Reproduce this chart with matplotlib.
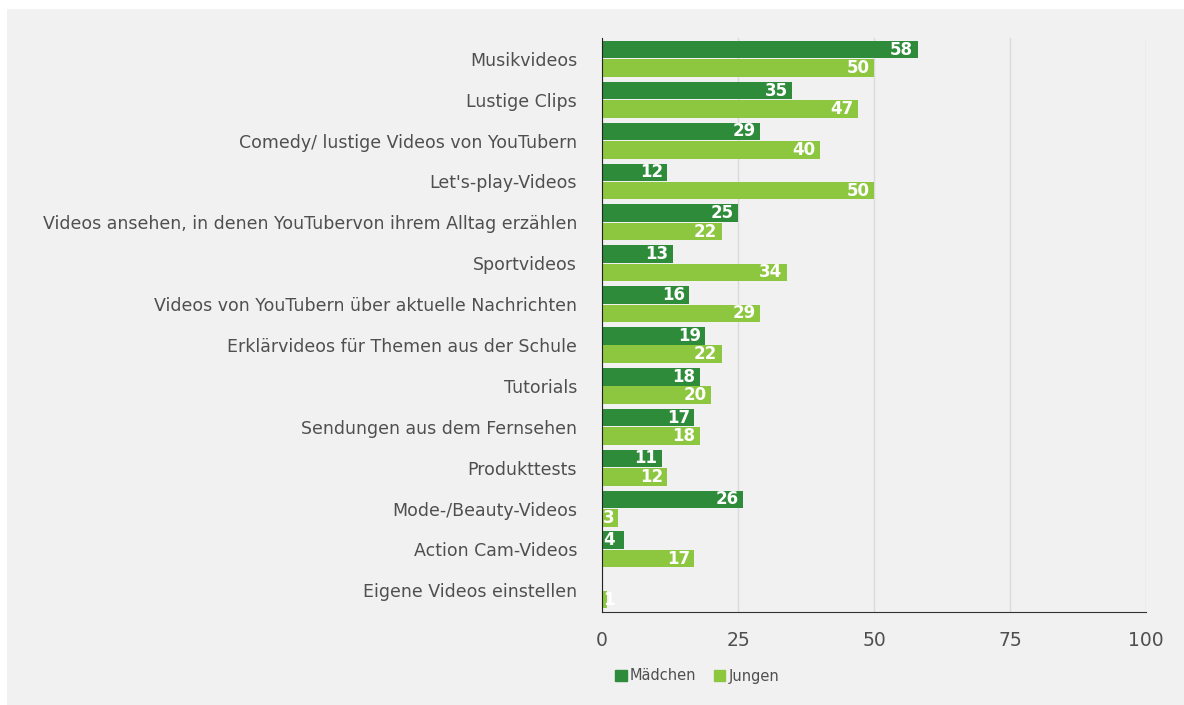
import matplotlib.pyplot as plt
import matplotlib.patches as mpatches
import numpy as np

plt.rcParams['font.family'] = ['DejaVu Sans']

categories = [
    "Musikvideos",
    "Lustige Clips",
    "Comedy/ lustige Videos von YouTubern",
    "Let's-play-Videos",
    "Videos ansehen, in denen YouTubervon ihrem Alltag erzählen",
    "Sportvideos",
    "Videos von YouTubern über aktuelle Nachrichten",
    "Erklärvideos für Themen aus der Schule",
    "Tutorials",
    "Sendungen aus dem Fernsehen",
    "Produkttests",
    "Mode-/Beauty-Videos",
    "Action Cam-Videos",
    "Eigene Videos einstellen",
]
maedchen = [58, 35, 29, 12, 25, 13, 16, 19, 18, 17, 11, 26, 4, 0]
jungen = [50, 47, 40, 50, 22, 34, 29, 22, 20, 18, 12, 3, 17, 1]

dark = '#2e8b3a'
light = '#8dc63f'
bg = '#f1f1f1'
txt = '#4f4f4f'

fig = plt.figure(figsize=(11.84, 7.05), dpi=100, facecolor='white')
fig.patches.append(mpatches.Rectangle((7 / 1184, 0), 1, 1 - 9 / 705,
                                      transform=fig.transFigure,
                                      facecolor=bg, edgecolor='none', zorder=-10))
ax = fig.add_axes([602 / 1184, 1 - 612 / 705, 544 / 1184, (612 - 38) / 705])
ax.set_facecolor(bg)

y = np.arange(len(categories))
h = 0.43
b1 = ax.barh(y - h / 2 - 0.01, maedchen, height=h, color=dark, zorder=3)
b2 = ax.barh(y + h / 2 + 0.01, jungen, height=h, color=light, zorder=3)

for bars, vals in ((b1, maedchen), (b2, jungen)):
    for bar, v in zip(bars, vals):
        if v == 0:
            continue
        cy = bar.get_y() + bar.get_height() / 2
        if v < 5:
            ax.text(0.25, cy, str(v), ha='left', va='center', color='white',
                    fontsize=12, fontweight='bold', zorder=4)
        else:
            ax.text(v - 0.8, cy, str(v), ha='right', va='center', color='white',
                    fontsize=12, fontweight='bold', zorder=4)

ax.set_xlim(0, 100)
ax.set_ylim(13.53, -0.51)
ax.set_yticks(y)
ax.set_yticklabels(categories, fontsize=12.5, color=txt)
ax.set_xticks([0, 25, 50, 75, 100])
ax.tick_params(axis='both', length=0)
ax.tick_params(axis='x', labelsize=13.5, colors=txt, pad=14)
ax.tick_params(axis='y', pad=18)
ax.grid(axis='x', color='#dadada', linewidth=1, zorder=0)
for s in ('top', 'right'):
    ax.spines[s].set_visible(False)
ax.spines['left'].set_color('#222222')
ax.spines['bottom'].set_color('#333333')
ax.spines['left'].set_zorder(5)

handles = [mpatches.Patch(color=dark, label='Mädchen'),
           mpatches.Patch(color=light, label='Jungen')]
fig.legend(handles=handles, loc='center', bbox_to_anchor=(697 / 1184, 1 - 676 / 705),
           ncol=2, frameon=False, fontsize=10.5, handlelength=0.8, handleheight=0.8,
           handletextpad=0.2, columnspacing=1.2, labelcolor=txt)

fig.savefig('out.png', dpi=100, facecolor='white')
